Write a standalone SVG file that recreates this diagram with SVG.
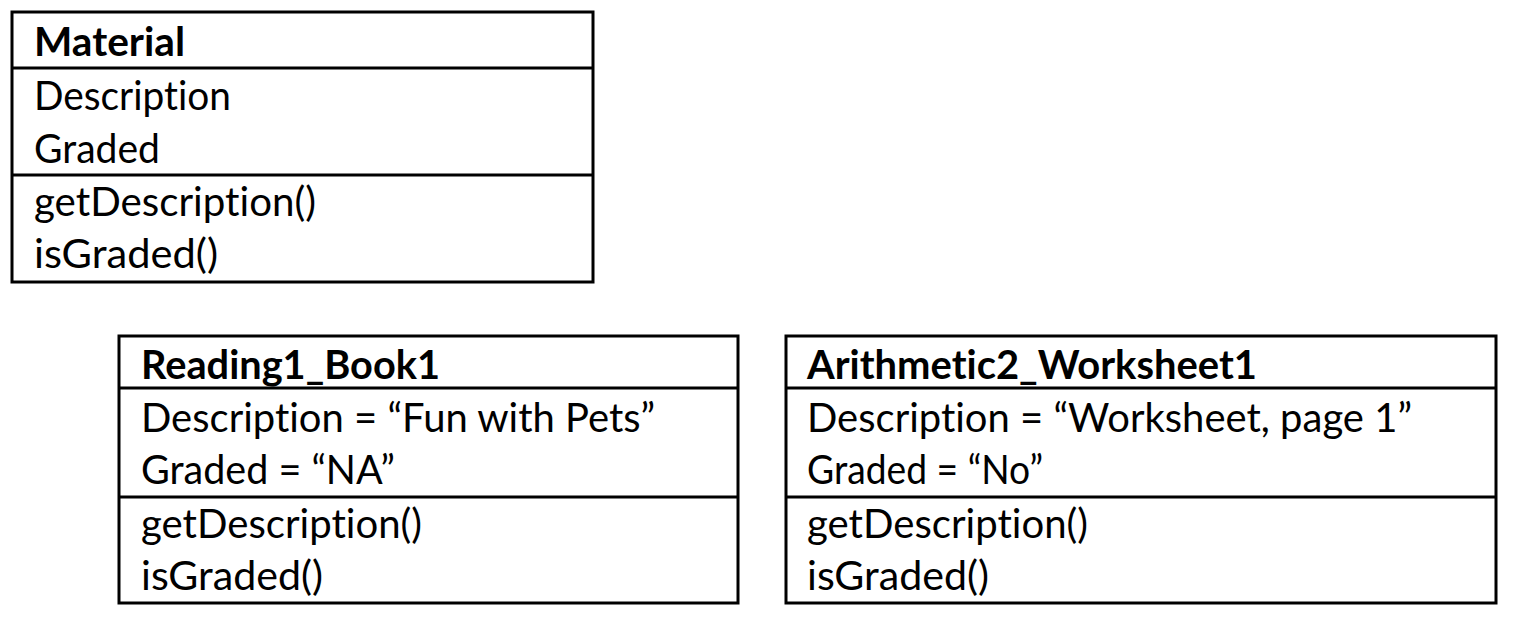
<svg xmlns="http://www.w3.org/2000/svg" width="1516" height="624" viewBox="0 0 1516 624">
<style>
.box{fill:#fff;stroke:#000;stroke-width:3}
.div{stroke:#000;stroke-width:3}
text{font-family:Lato,"Open Sans","Liberation Sans",sans-serif;font-size:40px;fill:#000;font-variant-ligatures:none;font-feature-settings:"liga" 0}
.t{font-weight:bold}
</style>
<rect width="1516" height="624" fill="#fff"/>
<g id="material">
<rect class="box" x="12" y="12" width="581" height="270"/>
<line class="div" x1="12" y1="68" x2="593" y2="68"/>
<line class="div" x1="12" y1="175" x2="593" y2="175"/>
<text class="t" x="34" y="56" textLength="151" lengthAdjust="spacingAndGlyphs">Material</text>
<text x="34" y="110" textLength="197" lengthAdjust="spacingAndGlyphs">Description</text>
<text x="34" y="163" textLength="126" lengthAdjust="spacingAndGlyphs">Graded</text>
<text x="34" y="216" textLength="282" lengthAdjust="spacingAndGlyphs">getDescription()</text>
<text x="34" y="268" textLength="184" lengthAdjust="spacingAndGlyphs">isGraded()</text>
</g>
<g id="reading1_book1">
<rect class="box" x="119" y="336" width="619" height="267"/>
<line class="div" x1="119" y1="388" x2="738" y2="388"/>
<line class="div" x1="119" y1="497" x2="738" y2="497"/>
<text class="t" x="141" y="379" textLength="299" lengthAdjust="spacingAndGlyphs">Reading1_Book1</text>
<text x="141" y="432" textLength="514" lengthAdjust="spacingAndGlyphs">Description = “Fun with Pets”</text>
<text x="141" y="484" textLength="254" lengthAdjust="spacingAndGlyphs">Graded = “NA”</text>
<text x="141" y="538" textLength="281" lengthAdjust="spacingAndGlyphs">getDescription()</text>
<text x="141" y="590" textLength="182" lengthAdjust="spacingAndGlyphs">isGraded()</text>
</g>
<g id="arithmetic2_worksheet1">
<rect class="box" x="786" y="336" width="710" height="267"/>
<line class="div" x1="786" y1="388" x2="1496" y2="388"/>
<line class="div" x1="786" y1="497" x2="1496" y2="497"/>
<text class="t" x="807" y="379" textLength="450" lengthAdjust="spacingAndGlyphs">Arithmetic2_Worksheet1</text>
<text x="807" y="432" textLength="605" lengthAdjust="spacingAndGlyphs">Description = “Worksheet, page 1”</text>
<text x="807" y="484" textLength="236" lengthAdjust="spacingAndGlyphs">Graded = “No”</text>
<text x="807" y="538" textLength="281" lengthAdjust="spacingAndGlyphs">getDescription()</text>
<text x="807" y="590" textLength="182" lengthAdjust="spacingAndGlyphs">isGraded()</text>
</g>
<g id="connectors"/>
</svg>
